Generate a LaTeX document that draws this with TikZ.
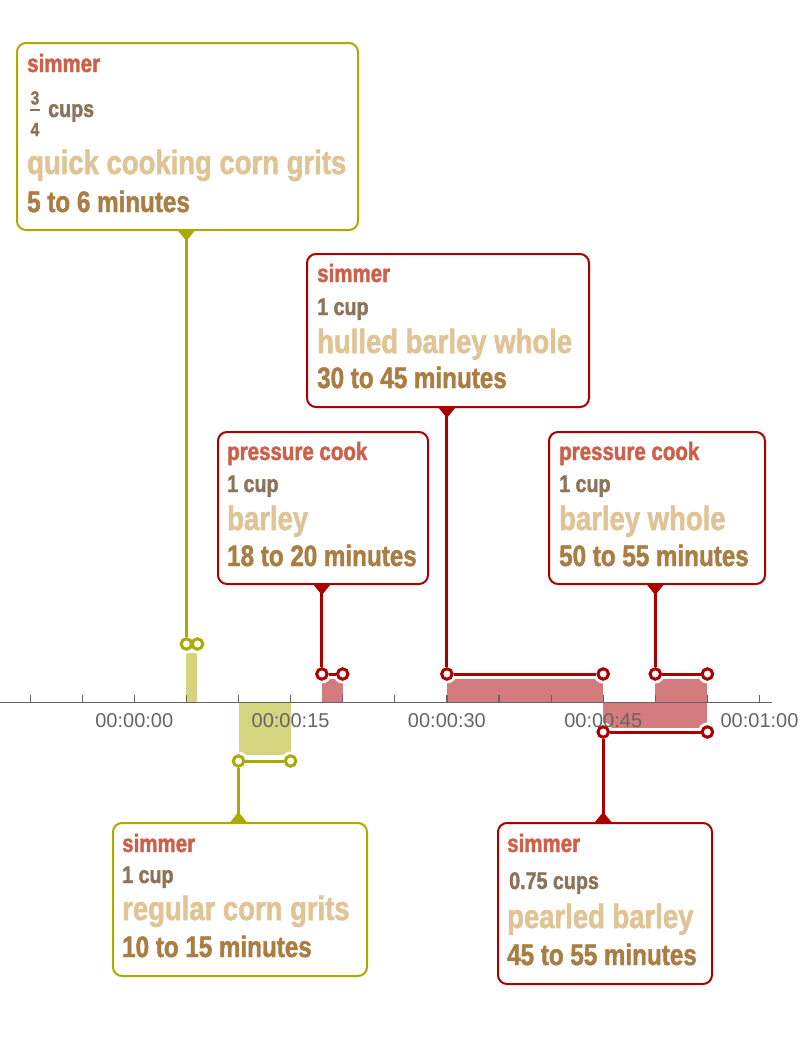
\documentclass[tikz,border=0pt]{standalone}
\usepackage{fontspec}
\setmainfont{Liberation Sans}
\newfontfamily\impfont{Liberation Sans Bold}[FakeStretch=0.82,FakeBold=1.6]
\definecolor{cMethod}{RGB}{204,96,74}
\definecolor{cAmt}{RGB}{140,115,90}
\definecolor{cFood}{RGB}{224,196,150}
\definecolor{cTime}{RGB}{170,125,66}
\definecolor{cRed}{RGB}{170,0,0}
\definecolor{cOlive}{RGB}{170,170,0}
\definecolor{cRedBar}{RGB}{212,124,125}
\definecolor{cOliveBar}{RGB}{213,213,128}
\definecolor{cAxis}{RGB}{100,100,100}
\tikzset{
  box/.style={draw, line width=2pt, rounded corners=9pt, fill=white, anchor=north west, inner sep=0pt},
  txt/.style={anchor=base west, inner sep=0pt},
  mth/.style={txt, text=cMethod, font=\impfont\fontsize{25}{25}\selectfont},
  amt/.style={txt, text=cAmt, font=\impfont\fontsize{24}{24}\selectfont},
  food/.style={txt, text=cFood, font=\impfont\fontsize{33.5}{33.5}\selectfont},
  tim/.style={txt, text=cTime, font=\impfont\fontsize{29.5}{29.5}\selectfont},
  mk/.style={circle, draw, line width=3pt, fill=white, minimum size=10.5pt, inner sep=0pt},
  con/.style={line width=3pt},
  halo/.style={white, line width=9pt},
  tlabel/.style={anchor=base, inner sep=0pt, text=cAxis, font=\fontsize{20}{20}\selectfont},
}
\begin{document}
\begin{tikzpicture}[x=1pt, y=-1pt]
\useasboundingbox (0,0) rectangle (802,1052);
% marker positions
\coordinate (p-qc1) at (186.4,644);
\coordinate (p-qc2) at (197.5,644);
\coordinate (p-rc1) at (238.5,761);
\coordinate (p-rc2) at (290.6,761);
\coordinate (p-bp1) at (321.9,674);
\coordinate (p-bp2) at (342.7,674);
\coordinate (p-hb1) at (446.9,674);
\coordinate (p-hb2) at (603.2,674);
\coordinate (p-bw1) at (655.3,674);
\coordinate (p-bw2) at (707.4,674);
\coordinate (p-pb1) at (603.2,732);
\coordinate (p-pb2) at (707.4,732);
% bars
\fill[cOliveBar] (186.4,653) rectangle (196.8,702.3);
\fill[cOliveBar] (238.5,702.3) rectangle (290.6,755);
\fill[cRedBar] (321.9,678) rectangle (342.7,702.3);
\fill[cRedBar] (446.9,678) rectangle (603.2,702.3);
\fill[cRedBar] (655.3,678) rectangle (707.4,702.3);
\fill[cRedBar] (603.2,702.3) rectangle (707.4,728);
% halos
\foreach \a/\b in {qc1/qc2, rc1/rc2, bp1/bp2, hb1/hb2, bw1/bw2, pb1/pb2}{
  \draw[halo] (p-\a) -- (p-\b);
  \fill[white] (p-\a) circle (9.5);
  \fill[white] (p-\b) circle (9.5);
}
% axis
\draw[cAxis, line width=1.2pt] (0,702.3) -- (772,702.3);
\foreach \t in {-10,-5,...,60}{
  \draw[cAxis, line width=1.2pt] (134.3+10.42*\t,702.3) -- (134.3+10.42*\t,695);
}
\node[tlabel] (l0) at (134.3,727) {00:00:00};
\node[tlabel] (l15) at (290.6,727) {00:00:15};
\node[tlabel] (l30) at (446.9,727) {00:00:30};
\node[tlabel] (l45) at (603.2,727) {00:00:45};
\node[tlabel] (l60) at (759.5,727) {00:01:00};
% boxes
\node[box, draw=cOlive, minimum width=341pt, minimum height=187pt] (qcbox) at (16,42) {};
\node[box, draw=cRed, minimum width=282pt, minimum height=153pt] (hbbox) at (306,253) {};
\node[box, draw=cRed, minimum width=210pt, minimum height=152pt] (bpbox) at (217,431) {};
\node[box, draw=cRed, minimum width=216pt, minimum height=152pt] (bwbox) at (548,431) {};
\node[box, draw=cOlive, minimum width=254pt, minimum height=153pt] (rcbox) at (112,822) {};
\node[box, draw=cRed, minimum width=214pt, minimum height=161pt] (pbbox) at (497,822) {};
% texts box 1
\node[mth] (qcm) at (27,72) {simmer};
\node[anchor=base, inner sep=0pt, text=cAmt, font=\impfont\fontsize{19}{19}\selectfont] (qcf3) at (35,104.5) {3};
\node[anchor=base, inner sep=0pt, text=cAmt, font=\impfont\fontsize{19}{19}\selectfont] (qcf4) at (35,136) {4};
\draw[cAmt, line width=1.4pt] (qcf3.south west |- 0,110) -- (qcf3.south east |- 0,110);
\node[amt] (qca) at (48,117) {cups};
\node[food] (qcfood) at (27,174) {quick cooking corn grits};
\node[tim] (qct) at (27,212) {5 to 6 minutes};
% box 2
\node[mth] (hbm) at (317,282) {simmer};
\node[amt] (hba) at (317,315) {1 cup};
\node[food] (hbfood) at (317,353) {hulled barley whole};
\node[tim] (hbt) at (317,388) {30 to 45 minutes};
% box 3
\node[mth] (bpm) at (227,460) {pressure cook};
\node[amt] (bpa) at (227,492) {1 cup};
\node[food] (bpfood) at (227,530) {barley};
\node[tim] (bpt) at (227,566) {18 to 20 minutes};
% box 4
\node[mth] (bwm) at (559,460) {pressure cook};
\node[amt] (bwa) at (559,492) {1 cup};
\node[food] (bwfood) at (559,530) {barley whole};
\node[tim] (bwt) at (559,566) {50 to 55 minutes};
% box 5
\node[mth] (rcm) at (122,852) {simmer};
\node[amt] (rca) at (122,883) {1 cup};
\node[food] (rcfood) at (122,920) {regular corn grits};
\node[tim] (rct) at (122,957) {10 to 15 minutes};
% box 6
\node[mth] (pbm) at (507,852) {simmer};
\node[amt] (pba) at (509,889) {0.75 cups};
\node[food] (pbfood) at (507,928) {pearled barley};
\node[tim] (pbt) at (507,965) {45 to 55 minutes};
% markers
\foreach \n/\c in {qc1/cOlive, qc2/cOlive, rc1/cOlive, rc2/cOlive, bp1/cRed, bp2/cRed, hb1/cRed, hb2/cRed, bw1/cRed, bw2/cRed, pb1/cRed, pb2/cRed}{
  \node[mk, draw=\c] (\n) at (p-\n) {};
}
% connectors
\draw[con, cOlive] (qcbox.south -| qc1) -- (qc1);
\draw[con, cOlive] (qc1) -- (qc2);
\draw[con, cOlive] (rc1) -- (rcbox.north -| rc1);
\draw[con, cOlive] (rc1) -- (rc2);
\draw[con, cRed] (bpbox.south -| bp1) -- (bp1);
\draw[con, cRed] (bp1) -- (bp2);
\draw[con, cRed] (hbbox.south -| hb1) -- (hb1);
\draw[con, cRed] (hb1) -- (hb2);
\draw[con, cRed] (bwbox.south -| bw1) -- (bw1);
\draw[con, cRed] (bw1) -- (bw2);
\draw[con, cRed] (pb1) -- (pbbox.north -| pb1);
\draw[con, cRed] (pb1) -- (pb2);
% pointers
\fill[cOlive] (qcbox.south -| qc1) ++(-9,-1) -- ++(18,0) -- ++(-9,11) -- cycle;
\fill[cRed] (hbbox.south -| hb1) ++(-9,-1) -- ++(18,0) -- ++(-9,11) -- cycle;
\fill[cRed] (bpbox.south -| bp1) ++(-9,-1) -- ++(18,0) -- ++(-9,11) -- cycle;
\fill[cRed] (bwbox.south -| bw1) ++(-9,-1) -- ++(18,0) -- ++(-9,11) -- cycle;
\fill[cOlive] (rcbox.north -| rc1) ++(-9,1) -- ++(18,0) -- ++(-9,-11) -- cycle;
\fill[cRed] (pbbox.north -| pb1) ++(-9,1) -- ++(18,0) -- ++(-9,-11) -- cycle;
\end{tikzpicture}
\end{document}
